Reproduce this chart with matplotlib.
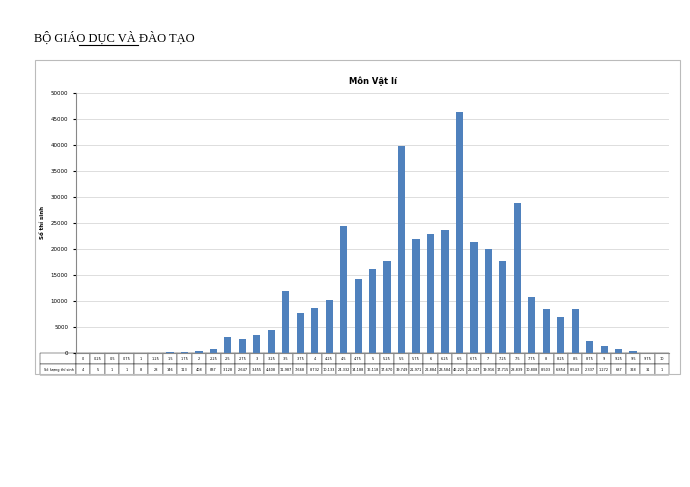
import matplotlib.pyplot as plt
from matplotlib.patches import Rectangle

scores = [f"{i * 0.25:g}" for i in range(41)]
counts = [4, 5, 1, 1, 8, 28, 146, 113, 408, 837, 3128, 2647, 3455, 4408, 11987, 7668,
          8732, 10133, 24332, 14188, 16118, 17670, 39749, 21971, 22884, 23584, 46225,
          21347, 19916, 17715, 28839, 10808, 8503, 6854, 8543, 2337, 1272, 687, 328, 31, 1]
row_label = "Số lượng thí sinh"

fig = plt.figure(figsize=(6.9, 4.87), dpi=100)
fig.text(0.05, 0.915, "BỘ GIÁO DỤC VÀ ĐÀO TẠO", fontsize=9, family="Liberation Serif")
fig.add_artist(plt.Line2D([0.115, 0.2], [0.907, 0.907], color="black", lw=0.8))
fig.add_artist(Rectangle((0.051, 0.232), 0.934, 0.645, transform=fig.transFigure,
                         fill=False, ec="#bbbbbb", lw=0.8))

ax = fig.add_axes([0.11, 0.275, 0.86, 0.535])
x = list(range(len(counts)))
ax.bar(x, counts, width=0.5, color="#4f81bd")
ax.set_xlim(-0.5, len(counts) - 0.5)
ax.set_ylim(0, 50000)
ax.set_yticks(range(0, 50001, 5000))
ax.tick_params(axis="y", labelsize=4, length=2)
ax.set_xticks([])
ax.grid(axis="y", color="#d0d0d0", lw=0.5)
ax.set_axisbelow(True)
for s in ["top", "right"]:
    ax.spines[s].set_visible(False)
ax.spines["left"].set_color("#888888")
ax.spines["bottom"].set_color("#888888")
ax.set_title("Môn Vật lí", fontsize=6, fontweight="bold")
ax.set_ylabel("Số thí sinh", fontsize=4, fontweight="bold")

tbl = ax.table(cellText=[scores, [f"{c:,}" for c in counts]],
               rowLabels=["", row_label], cellLoc="center",
               bbox=[0, -0.085, 1, 0.085])
tbl.auto_set_font_size(False)
tbl.set_fontsize(2.5)
for cell in tbl.get_celld().values():
    cell.set_linewidth(0.3)

fig.savefig("out.png")
